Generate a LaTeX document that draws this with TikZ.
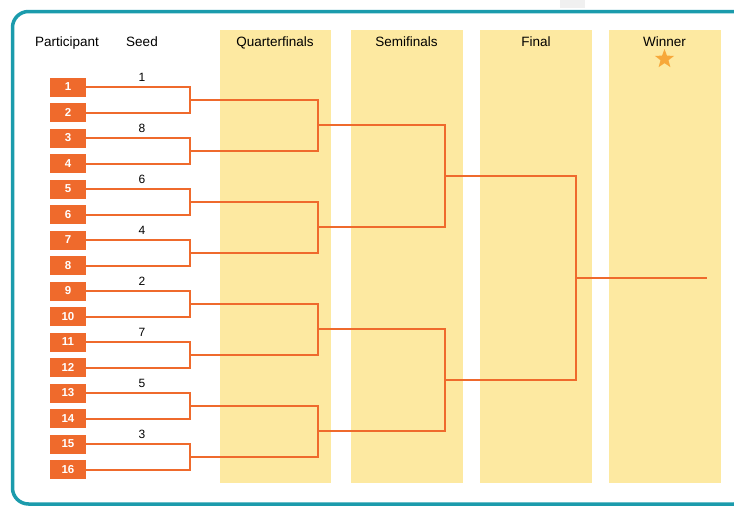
\documentclass[tikz,border=0pt]{standalone}
\usepackage{fontspec}
\setmainfont{Liberation Sans}
\usetikzlibrary{shapes.geometric}
\definecolor{brorange}{HTML}{EF6A2C}
\definecolor{bryellow}{HTML}{FDE9A1}
\definecolor{brteal}{HTML}{1B9BAC}
\definecolor{brstar}{HTML}{F7A83A}
\begin{document}
\begin{tikzpicture}[x=1pt,y=-1pt,
  colband/.style={fill=bryellow,draw=none},
  header/.style={font=\fontsize{13.5}{15}\selectfont,text=black,inner sep=0pt,anchor=base},
  pbox/.style={fill=brorange,draw=none,minimum width=36pt,minimum height=19pt,inner sep=0pt,text=white,font=\bfseries\fontsize{11.5}{12}\selectfont},
  seedlab/.style={font=\fontsize{12}{13}\selectfont,text=black,inner sep=0pt},
  bline/.style={draw=brorange,line width=2pt}]
\useasboundingbox (0,0) rectangle (734,506);
\begin{scope}
\clip (0,0) rectangle (734,506);
\fill[black!6] (560,0) rectangle (585,8);
\draw[brteal,line width=3.5pt,rounded corners=16pt] (12.5,11.5) rectangle (750,504);
\end{scope}
% columns
\path[colband] (220,30) rectangle (330.5,483);
\path[colband] (350.5,30) rectangle (462.5,483);
\path[colband] (480,30) rectangle (592,483);
\path[colband] (609,30) rectangle (720.5,483);
% headers
\node[header] (hpart) at (67,46.7) {Participant};
\node[header] (hseed) at (142,46.7) {Seed};
\node[header] (hqf) at (275,46.7) {Quarterfinals};
\node[header] (hsf) at (406.5,46.7) {Semifinals};
\node[header] (hf) at (536,46.7) {Final};
\node[header] (hw) at (664.5,46.7) {Winner};
\node[star,star points=5,star point ratio=2.4,fill=brstar,draw=none,minimum size=20pt,inner sep=0pt] (wstar) at (664.5,59) {};
% participants
\foreach \i in {1,...,16}{
  \node[pbox] (p\i) at (68,{87+(\i-1)*25.5}) {\i};
}
% seeds
\foreach \k/\s in {1/1,2/8,3/6,4/4,5/2,6/7,7/5,8/3}{
  \node[seedlab] (seed\k) at (142,{77.2+(\k-1)*51}) {\s};
}
% bracket coordinates
\foreach \k in {1,...,8}{
  \coordinate (q\k) at (190,{99.75+(\k-1)*51});
}
\foreach \j in {1,...,4}{
  \coordinate (s\j) at (318,{125.25+(\j-1)*102});
}
\coordinate (t1) at (445,176.25);
\coordinate (t2) at (445,380.25);
\coordinate (fin) at (576,278.25);
\coordinate (win) at (707,278.25);
% first round
\foreach \k in {1,...,8}{
  \pgfmathtruncatemacro{\a}{2*\k-1}
  \pgfmathtruncatemacro{\b}{2*\k}
  \draw[bline] (p\a.east) -| (q\k) |- (p\b.east);
}
% quarterfinals
\foreach \j in {1,...,4}{
  \pgfmathtruncatemacro{\a}{2*\j-1}
  \pgfmathtruncatemacro{\b}{2*\j}
  \draw[bline] (q\a) -| (s\j) |- (q\b);
}
% semifinals
\draw[bline] (s1) -| (t1) |- (s2);
\draw[bline] (s3) -| (t2) |- (s4);
% final
\draw[bline] (t1) -| (fin) |- (t2);
\draw[bline] (fin) -- (win);
\end{tikzpicture}
\end{document}
